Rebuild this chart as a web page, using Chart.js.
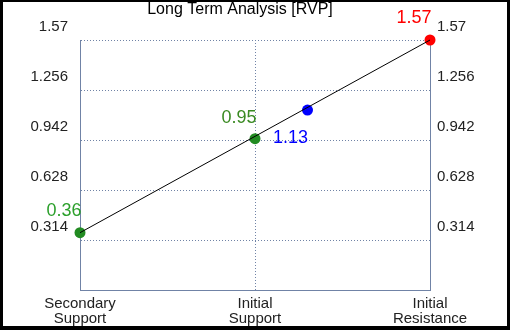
<!DOCTYPE html>
<html>
<head>
<meta charset="utf-8">
<script src="https://cdn.jsdelivr.net/npm/chart.js@4/dist/chart.umd.min.js"></script>
<style>
body{margin:0;background:#fff}
#wrap{position:relative;width:510px;height:330px}
#frame{position:absolute;left:0;top:0;width:510px;height:330px;box-sizing:border-box;border-style:solid;border-color:#000;border-width:2px 3px 4px 3px;pointer-events:none}
</style>
</head>
<body>
<div id="wrap">
<canvas id="grafico" width="510" height="330"></canvas>
<div id="frame"></div>
</div>
<script>
// data
let titulo = "Long Term Analysis [RVP]"
let categorias = ["Secondary Support", "Initial Support", "Initial Resistance"]
let niveis = [0.36, 0.95, 1.57]
let coresNiveis = ["#228b22", "#228b22", "#ff0000"]
let coresTexto = ["#2ca02c", "#3a8a22", "#ff0000"]
let precoAtual = 1.13
let posicaoAtual = 1.3
let ticksY = [0, 0.314, 0.628, 0.942, 1.256, 1.57]

let corGrade = "#7083a6"

let pontos = niveis.map((v, i) => ({x: i, y: v}))
pontos.splice(2, 0, {x: posicaoAtual, y: precoAtual})
let coresPontos = coresNiveis.slice()
coresPontos.splice(2, 0, "#0000ff")

let rotulos = [
  {x: 0, y: niveis[0], txt: "0.36", cor: coresTexto[0], dx: -16, dy: -22},
  {x: 1, y: niveis[1], txt: "0.95", cor: coresTexto[1], dx: -16, dy: -21},
  {x: posicaoAtual, y: precoAtual, txt: "1.13", cor: "#0000ff", dx: -17, dy: 28},
  {x: 2, y: niveis[2], txt: "1.57", cor: coresTexto[2], dx: -16, dy: -22}
]

let familia = "'Liberation Sans', Arial, sans-serif"

let pluginRotulos = {
  id: "rotulos",
  afterDatasetsDraw(chart){
    let ctx = chart.ctx
    let sx = chart.scales.x, sy = chart.scales.y
    ctx.save()
    ctx.font = "18px " + familia
    ctx.textAlign = "center"
    ctx.textBaseline = "middle"
    rotulos.forEach(r => {
      ctx.fillStyle = r.cor
      ctx.fillText(r.txt, sx.getPixelForValue(r.x) + r.dx, sy.getPixelForValue(r.y) + r.dy)
    })
    // titulo
    ctx.font = "16px " + familia
    ctx.fillStyle = "#000"
    ctx.fillText(titulo, 240, 10)
    ctx.restore()
  }
}

let fonte = {family: familia, size: 15}

let eixoY = (pos) => ({
  type: "linear",
  position: pos,
  min: 0,
  max: 1.57,
  afterBuildTicks: s => { s.ticks = ticksY.map(v => ({value: v})) },
  afterFit: s => { s.width = 80 },
  ticks: {
    color: "#222",
    font: fonte,
    padding: pos == "left" ? 12 : 7,
    labelOffset: -13,
    callback: v => v == 0 ? "" : String(v)
  },
  grid: {
    display: pos == "left",
    color: corGrade,
    lineWidth: 1,
    drawTicks: false
  },
  border: {display: true, color: corGrade, width: 1, dash: [1, 2]}
})

new Chart(document.getElementById("grafico"), {
  type: "scatter",
  data: {
    datasets: [
      {
        type: "line",
        data: [{x: 0, y: niveis[0]}, {x: 2, y: niveis[2]}],
        borderColor: "#000",
        borderWidth: 1,
        pointRadius: 0,
        fill: false,
        clip: false
      },
      {
        data: pontos,
        pointBackgroundColor: coresPontos,
        pointBorderWidth: 0,
        pointRadius: 5.5,
        clip: false
      }
    ]
  },
  options: {
    responsive: false,
    animation: false,
    layout: {padding: {top: 40}},
    plugins: {
      legend: {display: false},
      tooltip: {enabled: false},
      title: {display: false}
    },
    scales: {
      x: {
        type: "linear",
        min: 0,
        max: 2,
        afterBuildTicks: s => { s.ticks = categorias.map((c, i) => ({value: i})) },
        afterFit: s => { s.height = 40 },
        ticks: {
          color: "#222",
          font: {family: familia, size: 15, lineHeight: 0.95},
          padding: 7,
          maxRotation: 0,
          callback: v => categorias[v].split(" ")
        },
        grid: {color: corGrade, lineWidth: 1, drawTicks: false},
        border: {display: true, color: corGrade, width: 1, dash: [1, 2]}
      },
      y: eixoY("left"),
      y2: eixoY("right")
    }
  },
  plugins: [pluginRotulos]
})
</script>
</body>
</html>
